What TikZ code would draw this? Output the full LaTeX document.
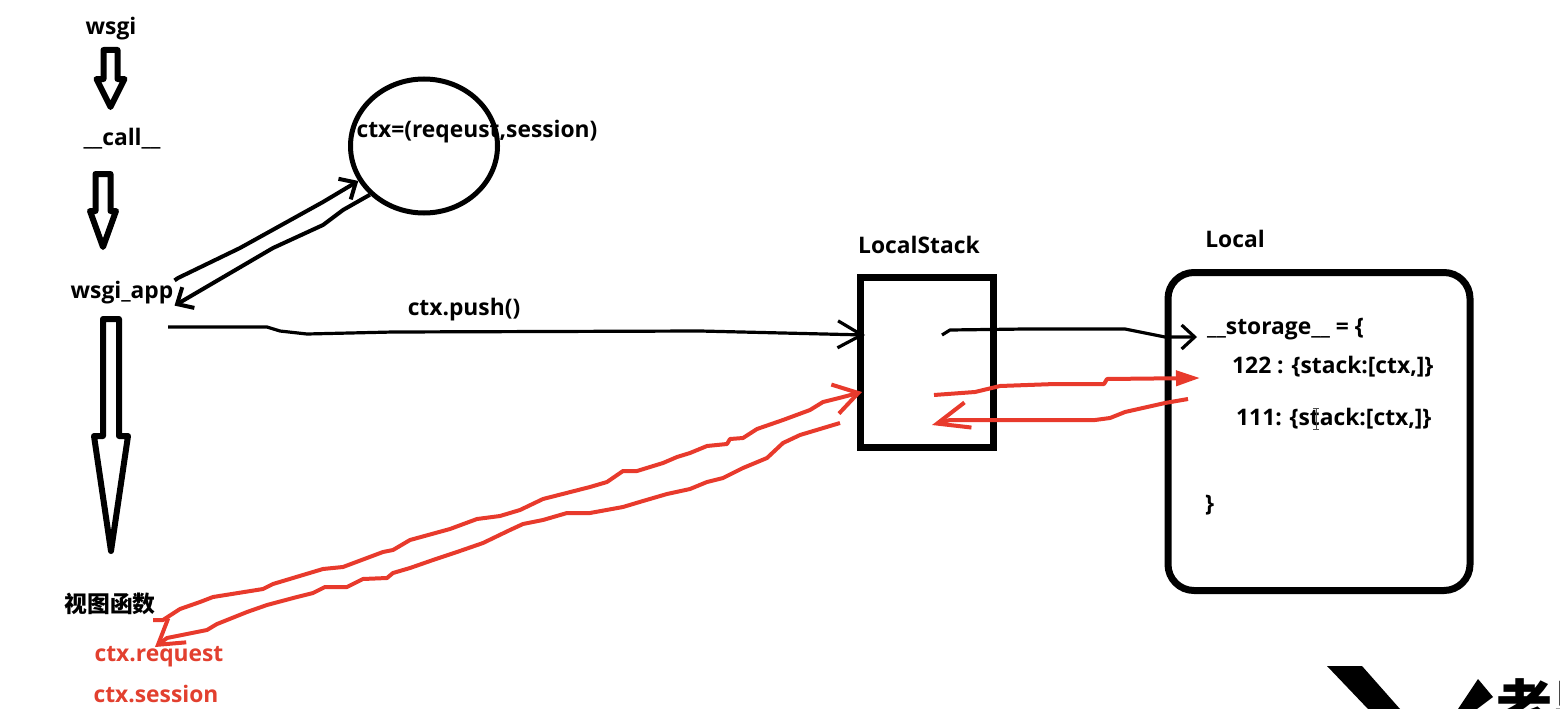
\documentclass[tikz,border=0pt]{standalone}
\usepackage{fontspec}
\setmainfont{Open Sans}
\newfontfamily\cjk{Noto Sans CJK SC}
\usetikzlibrary{arrows.meta,positioning,calc,shapes.geometric}
\definecolor{inkred}{HTML}{E83A2C}
\definecolor{textred}{HTML}{E2402F}

\begin{document}
\begin{tikzpicture}[
  x=1pt, y=-1pt,
  label/.style={inner sep=1pt, font=\fontsize{22.8}{26}\selectfont\bfseries},
  redlabel/.style={label, text=textred},
  code/.style={label, anchor=west, inner sep=0pt},
  hollowarr/.style n args={3}{draw=black, fill=white, line width=6pt, line join=round,
    to path={($(\tikztostart)+(-#1,0)$) -- ($(\tikztotarget)+(-#1,-#3)$) -- ($(\tikztotarget)+(-#2,-#3)$)
      -- (\tikztotarget) -- ($(\tikztotarget)+(#2,-#3)$) -- ($(\tikztotarget)+(#1,-#3)$) -- ($(\tikztostart)+(#1,0)$) -- cycle}},
  ink/.style={black, line width=4pt, line join=round, -{Straight Barb[length=13pt,width=24pt]}},
  thinink/.style={ink, line width=3.2pt},
  redink/.style={inkred, line width=4pt, line join=round, -{Straight Barb[length=24pt,width=30pt]}},
  redhead/.style={inkred, line width=4pt, line join=round, -{Triangle[length=24pt,width=15pt]}}
]
\useasboundingbox (0,0) rectangle (1560,709);

% left column
\node[label] (wsgi) at (111,29) {wsgi};
\node[label] (call) at (122,139) {\_\_call\_\_};
\node[label] (app) at (122,293) {wsgi\_app};
\node[label] (view) at (110,604) {\cjk\bfseries 视图函数};
\node[redlabel] (request) at (159,657) {ctx.request};
\node[redlabel] (session) at (156,694) {ctx.session};

\coordinate (wsgiOut) at (110.5,50);
\coordinate (callIn) at (110.5,107);
\coordinate (callOut) at (103,174);
\coordinate (appIn) at (103,247);
\coordinate (appOut) at (111,319);
\coordinate (viewIn) at (111,551);
\draw[hollowarr={7}{14}{28}] (wsgiOut) to (callIn);
\draw[hollowarr={7.5}{13}{36}] (callOut) to (appIn);
\draw[hollowarr={8}{17}{115}] (appOut) to (viewIn);

% circle
\node[draw, line width=5pt, ellipse, minimum width=147pt, minimum height=134pt, inner sep=0pt] (ctxCircle) at (424,146) {};
\node[label] (ctx) at (477,132) {ctx=(reqeust,session)};

\draw[ink] (app.north east) -- (178,278) -- (240,248) -- (323,202) -- (ctxCircle.208);
\draw[ink] (ctxCircle.222) -- (343,210) -- (323,225) -- (273,248) -- (app.south east);

% boxes
\node[draw, line width=7pt, minimum width=133pt, minimum height=170pt, inner sep=0pt] (stackBox) at (927,362.5) {};
\node[label, above=19pt of stackBox.north, xshift=-8pt] (stackName) {LocalStack};
\node[draw, line width=7pt, rounded corners=26pt, minimum width=302pt, minimum height=318pt, inner sep=0pt] (localBox) at (1319,431.5) {};
\node[label, above=20pt of localBox.north, xshift=-84pt] (localName) {Local};

\node[code] (storage) at (1207,329) {\_\_storage\_\_ = \{};
\node[code] (entryA) at (1232,367) {122 : \{stack:[ctx,]\}};
\node[code] (entryB) at (1236,419) {111: \{stack:[ctx,]\}};
\node[code] (closing) at (1205,505) {\}};
\node[label] (push) at (464,310) {ctx.push()};

% black connectors
\coordinate (pushStart) at (168,327);
\coordinate (stackIn) at (865,335);
\coordinate (stackOut) at (942,335);
\coordinate (localIn) at (1197,337);
\draw[thinink, -{Straight Barb[length=24pt,width=27pt]}] (pushStart) -- (267,327) -- (280,331) -- (307,334) -- (393,332) -- (700,331) -- (stackIn);
\draw[thinink] (stackOut) -- (950,330) -- (1025,329) -- (1125,329) -- (1165,337) -- (localIn);

% red connectors
\coordinate (redOutA) at (934,395);
\coordinate (localRedIn) at (1200,378);
\coordinate (localRedOut) at (1188,399);
\coordinate (stackRedIn) at (932,425);
\coordinate (viewOut) at (153,620);
\coordinate (stackEdge) at (862,392);
\coordinate (stackBack) at (840,423);
\coordinate (viewBack) at (155,647);
\draw[redhead] (redOutA) -- (975,392) -- (1000,386) -- (1055,384) -- (1104,384) -- (1107,379) -- (localRedIn);
\draw[redink, -{Straight Barb[length=32pt,width=26pt]}] (localRedOut) -- (1165,403) -- (1125,412) -- (1110,418) -- (1095,420) -- (950,420) -- (stackRedIn);
\draw[redink] (viewOut) -- (163,620) -- (180,609) -- (200,602) -- (213,597) -- (263,589) -- (273,584)
  -- (323,569) -- (343,567) -- (383,552) -- (393,550) -- (410,540) -- (450,529) -- (477,519) -- (500,516)
  -- (520,510) -- (543,499) -- (590,487) -- (607,482) -- (623,471) -- (637,471) -- (663,463) -- (677,457)
  -- (690,453) -- (707,446) -- (727,444) -- (730,439) -- (743,438) -- (757,429) -- (783,420) -- (810,410)
  -- (823,402) -- (843,397) -- (stackEdge);
\draw[redink] (stackBack) -- (820,429) -- (800,435) -- (783,443) -- (767,458) -- (743,468) -- (723,478)
  -- (707,482) -- (690,489) -- (667,494) -- (643,501) -- (623,507) -- (590,513) -- (567,513) -- (543,520)
  -- (523,524) -- (510,530) -- (483,543) -- (457,552) -- (433,560) -- (410,568) -- (393,573) -- (387,578)
  -- (363,579) -- (347,587) -- (325,587) -- (313,593) -- (297,597) -- (267,605) -- (247,612) -- (217,624)
  -- (207,630) -- (187,634) -- (167,638) -- (viewBack);

% mouse cursor and logo in the corner
\draw[black!70, line width=1pt] (1313,408) -- (1319,408) (1316,408) -- (1316,429) (1313,429) -- (1319,429);
\fill (1327,666) -- (1362,666) -- (1400,709) -- (1368,709) -- cycle;
\fill (1478,679) -- (1493,697) -- (1477,709) -- (1458,709) -- cycle;
\begin{scope}
\clip (0,0) rectangle (1560,709);
\node[anchor=west, inner sep=0pt, font=\fontsize{56}{60}\selectfont\cjk\bfseries] (logo) at (1496,705) {老男};
\end{scope}
\end{tikzpicture}
\end{document}
